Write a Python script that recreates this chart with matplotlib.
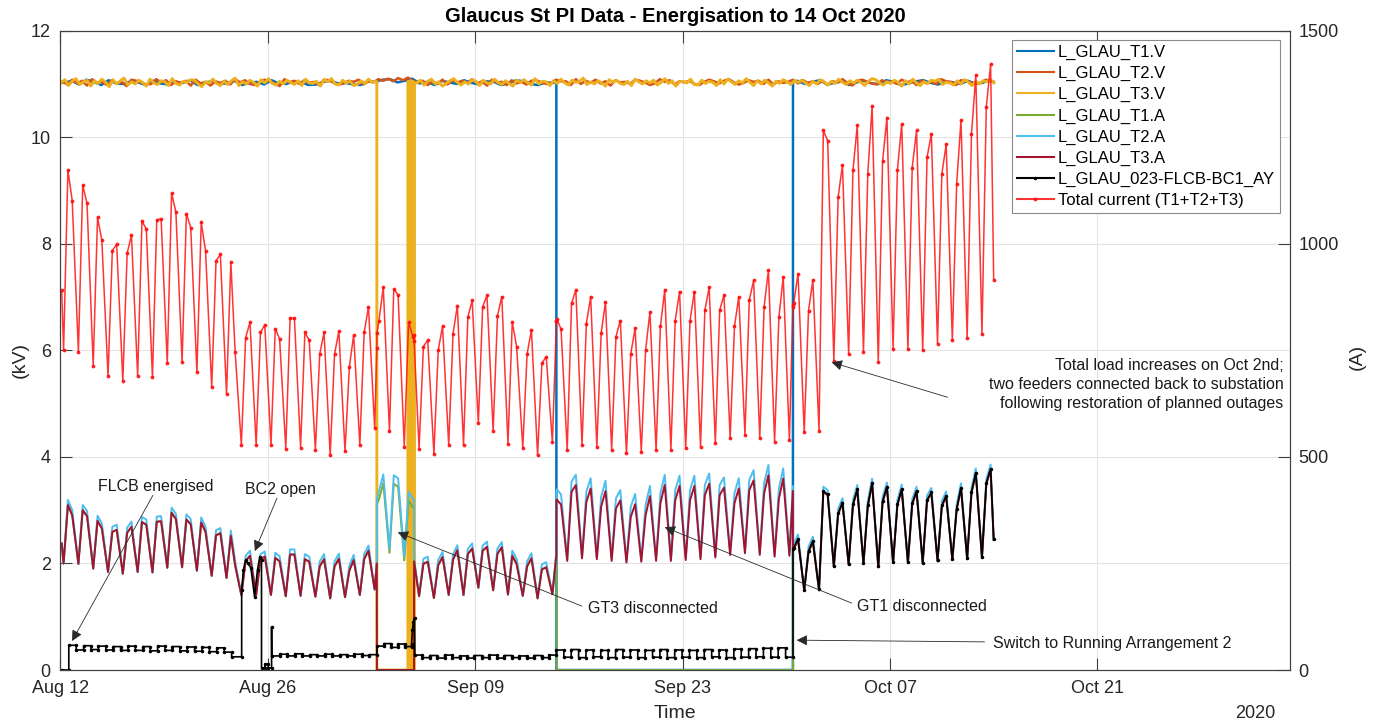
import numpy as np
import matplotlib
matplotlib.use("Agg")
import matplotlib.pyplot as plt
import matplotlib.dates as mdates
from datetime import datetime

plt.rcParams['font.family'] = ['Liberation Sans', 'DejaVu Sans']

# ------------------------------------------------------------------ data
START = datetime(2020, 8, 12)          # day 0 of the record
X_END_DAY = 83                          # axis runs to 3 Nov 2020
tick_days = [0, 14, 28, 42, 56, 70]

# --- voltages (kV), one row per day ---
t1_volt_hours = [6, 18]
t1_volt = [
    [11.02, 11.06], [10.99, 11.08], [11.04, 10.98], [11.07, 11.01], [11.00, 11.05],
    [11.03, 10.98], [11.06, 11.01], [10.99, 11.04], [11.02, 11.07], [10.98, 11.03],
    [11.05, 11.00], [11.01, 11.06], [10.98, 11.02], [11.04, 10.99], [11.07, 11.01],
    [11.00, 11.05], [11.03, 10.98], [10.99, 11.04], [11.06, 11.01], [11.02, 10.99],
    [10.98, 11.05], [11.04, 11.08], [11.09, 11.03], [11.06, 11.10], [11.01, 11.04],
    [10.98, 11.06], [11.03, 11.00], [11.07, 11.02], [10.99, 11.05], [11.04, 10.98],
    [11.01, 11.07], [11.05, 11.00], [10.98, 11.03], [11.02, 0.0], [0.0, 0.0],
    [0.0, 0.0], [0.0, 0.0], [0.0, 0.0], [0.0, 0.0], [0.0, 0.0],
    [0.0, 0.0], [0.0, 0.0], [0.0, 0.0], [0.0, 0.0], [0.0, 0.0],
    [0.0, 0.0], [0.0, 0.0], [0.0, 0.0], [0.0, 0.0], [0.0, 11.06],
    [11.00, 11.04], [11.07, 10.99], [11.02, 11.05], [10.98, 11.03], [11.06, 11.01],
    [11.00, 11.07], [11.04, 10.98], [11.01, 11.05], [11.07, 11.02], [10.99, 11.04],
    [11.03, 11.00], [11.06, 11.01], [11.02, 11.08],
]
t1_volt_ev_days = [0.08, 33.475, 33.48, 49.445, 49.45, 63.0]
t1_volt_ev = [11.03, 11.03, 0.0, 0.0, 11.04, 11.03]

t2_volt_hours = [3, 11, 19]
t2_volt = [
    [11.05, 10.99, 11.08], [11.01, 11.06, 10.97], [11.09, 11.02, 11.04], [10.98, 11.07, 11.01],
    [11.04, 10.96, 11.08], [11.06, 11.03, 10.99], [11.00, 11.09, 11.03], [11.07, 10.98, 11.05],
    [11.02, 11.06, 10.97], [11.08, 11.01, 11.04], [10.97, 11.05, 11.02], [11.06, 10.99, 11.09],
    [11.03, 11.07, 11.00], [10.98, 11.04, 11.08], [11.05, 11.01, 10.96], [11.09, 11.03, 11.06],
    [11.00, 11.07, 11.02], [11.04, 10.98, 11.08], [11.07, 11.02, 10.99], [11.01, 11.06, 11.04],
    [11.08, 10.99, 11.05], [11.03, 11.09, 11.06], [11.10, 11.05, 11.11], [11.07, 11.12, 11.06],
    [11.02, 11.06, 10.98], [11.05, 11.00, 11.08], [10.99, 11.07, 11.03], [11.06, 11.02, 11.09],
    [11.01, 11.05, 10.97], [11.08, 11.03, 11.04], [10.98, 11.07, 11.01], [11.04, 10.99, 11.06],
    [11.07, 11.03, 11.00], [11.02, 11.08, 11.05], [11.05, 10.98, 11.09], [11.00, 11.06, 11.02],
    [11.08, 11.01, 11.05], [10.97, 11.07, 11.03], [11.04, 11.00, 11.08], [11.06, 11.03, 10.98],
    [11.01, 11.09, 11.04], [11.07, 10.99, 11.05], [11.03, 11.06, 11.00], [10.98, 11.04, 11.08],
    [11.05, 11.01, 11.06], [11.09, 11.03, 10.99], [11.02, 11.07, 11.04], [11.06, 11.00, 11.08],
    [10.99, 11.05, 11.02], [11.04, 11.08, 11.01], [11.07, 11.02, 11.05], [11.00, 11.06, 10.98],
    [11.05, 11.03, 11.09], [11.02, 10.97, 11.06], [11.08, 11.04, 11.01], [10.99, 11.07, 11.03],
    [11.05, 11.00, 11.08], [11.03, 11.06, 10.98], [11.07, 11.01, 11.04], [11.00, 11.09, 11.05],
    [11.04, 10.98, 11.07], [11.06, 11.03, 11.00], [11.02, 11.08, 11.05],
]
t2_volt_ev_days = [0.08, 63.0]
t2_volt_ev = [11.03, 11.04]

t3_volt_hours = [1, 7, 13, 19]
t3_volt = [
    [11.02, 11.08, 10.97, 11.05], [11.10, 10.99, 11.04, 11.07], [10.96, 11.06, 11.01, 11.09],
    [11.03, 10.95, 11.08, 11.00], [11.06, 11.11, 10.98, 11.04], [11.00, 11.07, 11.03, 10.96],
    [11.09, 11.02, 10.99, 11.06], [11.04, 10.97, 11.10, 11.01], [10.98, 11.05, 11.03, 11.08],
    [11.07, 11.00, 10.95, 11.04], [11.02, 11.09, 11.01, 10.97], [11.05, 10.99, 11.06, 11.11],
    [10.97, 11.04, 11.00, 11.07], [11.03, 10.96, 11.08, 11.02], [11.10, 11.01, 10.98, 11.05],
    [11.00, 11.07, 11.03, 10.99], [11.06, 10.97, 11.09, 11.02], [11.01, 11.05, 10.96, 11.08],
    [11.04, 11.10, 11.00, 10.98], [11.07, 11.02, 11.05, 10.97], [10.99, 11.06, 11.01, 11.09],
    [11.03, 11.05, 0.0, 0.0], [0.0, 0.0, 0.0, 0.0], [0.0, 0.0, 0.0, 0.0],
    [11.02, 11.07, 10.98, 11.05], [11.09, 11.00, 11.04, 10.96], [11.01, 11.06, 11.10, 11.03],
    [10.98, 11.04, 11.00, 11.08], [11.05, 10.97, 11.07, 11.02], [11.00, 11.09, 11.03, 10.99],
    [11.06, 11.01, 10.96, 11.07], [11.03, 11.08, 11.02, 10.98], [11.10, 11.00, 11.05, 11.04],
    [10.97, 11.06, 11.01, 11.09], [11.02, 10.98, 11.07, 11.03], [11.05, 11.11, 10.99, 11.04],
    [11.00, 11.06, 11.02, 10.96], [11.08, 11.03, 11.07, 11.01], [10.99, 11.05, 10.97, 11.09],
    [11.04, 11.00, 11.06, 11.02], [11.07, 10.98, 11.03, 11.10], [11.01, 11.06, 10.96, 11.04],
    [11.05, 11.02, 11.09, 10.99], [10.98, 11.07, 11.01, 11.05], [11.03, 10.97, 11.08, 11.00],
    [11.09, 11.04, 10.99, 11.06], [11.02, 11.10, 11.03, 10.97], [11.06, 11.00, 11.07, 11.02],
    [10.96, 11.05, 11.01, 11.08], [11.04, 10.99, 11.06, 11.03], [11.07, 11.02, 10.97, 11.05],
    [11.00, 11.08, 11.04, 10.98], [11.05, 11.01, 11.09, 11.03], [10.99, 11.06, 11.02, 11.07],
    [11.03, 10.97, 11.05, 11.10], [11.08, 11.02, 10.98, 11.04], [11.01, 11.07, 11.03, 10.96],
    [11.06, 11.00, 11.09, 11.02], [10.97, 11.04, 11.01, 11.07], [11.05, 11.09, 10.99, 11.03],
    [11.02, 10.98, 11.06, 11.00], [11.08, 11.03, 10.97, 11.05], [11.00, 11.06, 11.04, 11.08],
]
t3_volt_ev_days = [21.355, 21.36, 23.45, 23.451, 23.50, 23.501, 23.55, 23.551, 23.62, 23.621,
                   23.68, 23.681, 23.74, 23.741, 23.80, 23.801, 23.85, 23.851, 23.88, 23.881, 63.0]
t3_volt_ev = [11.04, 0.0, 0.0, 11.05, 11.03, 0.0, 0.0, 11.02, 11.06, 0.0,
              0.0, 11.04, 11.01, 0.0, 0.0, 11.05, 11.03, 0.0, 0.0, 11.02, 11.02]

# --- transformer currents (A), one row per day: early morning, midday, evening ---
amp_hours = [5, 12, 19]
amp_ev_days = [0.08, 21.355, 21.36, 23.865, 23.87, 33.475, 33.48, 49.445, 49.45, 63.0]

t1_amps = [
    [250, 387, 363], [249, 375, 361], [238, 350, 332], [230, 324, 329], [226, 322, 336],
    [230, 347, 341], [229, 348, 349], [240, 369, 354], [241, 353, 342], [233, 346, 324],
    [221, 316, 321], [216, 315, 245], [176, 256, 268], [176, 260, 266], [176, 263, 255],
    [173, 271, 271], [174, 260, 254], [172, 243, 260], [168, 243, 261], [171, 233, 258],
    [176, 260, 280], [189, 400, 439], [275, 437, 430], [257, 398, 381], [173, 249, 254],
    [169, 246, 265], [176, 259, 281], [176, 272, 285], [193, 280, 289], [187, 273, 288],
    [177, 268, 249], [174, 243, 262], [168, 236, 241], [178, 0, 0], [0, 0, 0],
    [0, 0, 0], [0, 0, 0], [0, 0, 0], [0, 0, 0], [0, 0, 0],
    [0, 0, 0], [0, 0, 0], [0, 0, 0], [0, 0, 0], [0, 0, 0],
    [0, 0, 0], [0, 0, 0], [0, 0, 0], [0, 0, 0], [0, 283, 306],
    [186, 277, 301], [187, 418, 410], [242, 366, 391], [247, 387, 422], [249, 384, 437],
    [241, 394, 428], [251, 387, 423], [251, 389, 418], [250, 397, 415], [255, 384, 407],
    [258, 376, 426], [260, 415, 461], [263, 436, 470],
]
t1_amps_ev = [297, 250, 390, 385, 255, 270, 0, 0, 283, 305]

t2_amps = [
    [250, 399, 375], [249, 387, 373], [238, 362, 344], [230, 336, 341], [226, 334, 348],
    [230, 359, 353], [229, 360, 361], [240, 381, 366], [241, 365, 354], [233, 358, 336],
    [221, 328, 333], [216, 327, 255], [176, 268, 280], [176, 272, 278], [176, 275, 267],
    [173, 283, 283], [174, 272, 266], [172, 255, 272], [168, 255, 273], [171, 245, 270],
    [176, 272, 292], [189, 420, 459], [285, 457, 450], [267, 418, 401], [173, 261, 266],
    [169, 258, 277], [176, 271, 293], [176, 284, 297], [193, 292, 301], [187, 285, 300],
    [177, 280, 261], [174, 255, 274], [168, 248, 253], [178, 424, 412], [260, 442, 458],
    [266, 418, 450], [264, 407, 444], [260, 403, 422], [256, 383, 413], [258, 387, 432],
    [260, 415, 458], [260, 422, 456], [262, 422, 456], [264, 434, 461], [268, 434, 452],
    [274, 415, 450], [278, 446, 469], [274, 438, 481], [270, 426, 473], [272, 295, 318],
    [186, 289, 313], [187, 430, 422], [242, 378, 403], [247, 399, 434], [249, 396, 449],
    [241, 406, 440], [251, 399, 435], [251, 401, 430], [250, 409, 427], [255, 396, 419],
    [258, 388, 438], [260, 427, 473], [263, 448, 482],
]
t2_amps_ev = [297, 255, 400, 400, 262, 278, 420, 432, 290, 305]

t3_amps = [
    [250, 387, 363], [249, 375, 361], [238, 350, 332], [230, 324, 329], [226, 322, 336],
    [230, 347, 341], [229, 348, 349], [240, 369, 354], [241, 353, 342], [233, 346, 324],
    [221, 316, 321], [216, 315, 245], [176, 256, 268], [176, 260, 266], [176, 263, 255],
    [173, 271, 271], [174, 260, 254], [172, 243, 260], [168, 243, 261], [171, 233, 258],
    [176, 260, 280], [189, 0, 0], [0, 0, 0], [0, 0, 0], [173, 249, 254],
    [169, 246, 265], [176, 259, 281], [176, 272, 285], [193, 280, 289], [187, 273, 288],
    [177, 268, 249], [174, 243, 262], [168, 236, 241], [178, 400, 388], [256, 418, 434],
    [262, 394, 426], [260, 383, 420], [256, 379, 398], [252, 359, 389], [254, 363, 408],
    [256, 391, 434], [256, 398, 432], [258, 398, 432], [260, 410, 437], [264, 410, 428],
    [270, 391, 426], [274, 422, 445], [270, 414, 457], [266, 402, 449], [268, 283, 306],
    [186, 277, 301], [187, 418, 410], [242, 366, 391], [247, 387, 422], [249, 384, 437],
    [241, 394, 428], [251, 387, 423], [251, 389, 418], [250, 397, 415], [255, 384, 407],
    [258, 376, 426], [260, 415, 461], [263, 436, 470],
]
t3_amps_ev = [297, 250, 0, 0, 255, 270, 398, 420, 283, 305]

# --- FLCB bus-coupler current (A) ---
flcb_pre_span = (0.08, 0.56);   flcb_pre = [0]
flcb_s1_span = (0.56, 11.55)
flcb_s1 = [58, 47, 57, 48, 56, 47, 55, 46, 56, 46, 55, 45, 56, 46, 55, 45, 54, 44, 53, 43, 52, 42]
flcb_s2_span = (11.55, 12.23);  flcb_s2 = [31]
flcb_bc2_days = [12.23, 12.35, 12.5, 12.65, 12.85, 13.1, 13.3, 13.45, 13.57]
flcb_bc2 = [188, 235, 258, 250, 240, 172, 235, 265, 258]
flcb_s3_span = (13.57, 14.25);  flcb_s3 = [5, 14, 5]
flcb_spike_days = [14.25, 14.26];  flcb_spike = [101, 33]
flcb_s4_span = (14.3, 21.36)
flcb_s4 = [33, 37, 33, 38, 33, 36, 33, 37, 33, 36, 33, 37, 34, 36]
flcb_s5_span = (21.36, 23.7);   flcb_s5 = [56, 62, 53, 61, 55]
flcb_ramp_days = [23.7, 23.76, 23.82, 23.9];  flcb_ramp = [60, 95, 112, 122]
flcb_s6_span = (23.92, 33.48)
flcb_s6 = [35, 29, 34, 28, 35, 29, 33, 28, 34, 29, 35, 28, 34, 29, 33, 28, 34, 29, 35]
flcb_s7_span = (33.48, 49.45)
flcb_s7 = [47, 30, 48, 29, 47, 31, 46, 29, 48, 30, 47, 29, 46, 30, 48, 29,
           47, 30, 46, 29, 48, 31, 47, 29, 49, 30, 50, 31, 51, 30, 52, 30]
flcb_head_days = [49.45, 49.5, 49.79];  flcb_head = [285, 287, 308]
flcb_rows_first_day = 50
flcb_rows = [
    [188, 279, 303], [189, 420, 412], [244, 368, 393], [249, 389, 424], [251, 386, 439],
    [243, 396, 430], [253, 389, 425], [253, 391, 420], [252, 399, 417], [257, 386, 409],
    [260, 378, 428], [262, 417, 463], [265, 438, 472],
]
flcb_end_day = 63.0;  flcb_end = 307

labels = ['L_GLAU_T1.V', 'L_GLAU_T2.V', 'L_GLAU_T3.V', 'L_GLAU_T1.A', 'L_GLAU_T2.A',
          'L_GLAU_T3.A', 'L_GLAU_023-FLCB-BC1_AY', 'Total current (T1+T2+T3)']
colors = ['#0072BD', '#D95319', '#EDB120', '#77AC30', '#4DBEEE', '#A2142F', 'k', 'r']


# ------------------------------------------------------------------ helpers
def merge(rows, hours, ev_days=(), ev_vals=(), first_day=0):
    t = [first_day + d + h / 24.0 for d, row in enumerate(rows) for h in hours[:len(row)]]
    v = [x for row in rows for x in row]
    t = np.array(t + list(ev_days), dtype=float)
    v = np.array(v + list(ev_vals), dtype=float)
    o = np.argsort(t, kind='stable')
    return t[o], v[o]


def stairs(span, levels):
    edges = np.linspace(span[0], span[1], len(levels) + 1)
    return np.repeat(edges, 2)[1:-1], np.repeat(np.asarray(levels, float), 2)


T0 = mdates.date2num(START)

v1_t, v1 = merge(t1_volt, t1_volt_hours, t1_volt_ev_days, t1_volt_ev)
v2_t, v2 = merge(t2_volt, t2_volt_hours, t2_volt_ev_days, t2_volt_ev)
v3_t, v3 = merge(t3_volt, t3_volt_hours, t3_volt_ev_days, t3_volt_ev)
a_t, a1 = merge(t1_amps, amp_hours, amp_ev_days, t1_amps_ev)
_, a2 = merge(t2_amps, amp_hours, amp_ev_days, t2_amps_ev)
_, a3 = merge(t3_amps, amp_hours, amp_ev_days, t3_amps_ev)
total = a1 + a2 + a3

pieces = [
    stairs(flcb_pre_span, flcb_pre),
    stairs(flcb_s1_span, flcb_s1),
    stairs(flcb_s2_span, flcb_s2),
    (np.array(flcb_bc2_days), np.array(flcb_bc2, float)),
    stairs(flcb_s3_span, flcb_s3),
    (np.array(flcb_spike_days), np.array(flcb_spike, float)),
    stairs(flcb_s4_span, flcb_s4),
    stairs(flcb_s5_span, flcb_s5),
    (np.array(flcb_ramp_days), np.array(flcb_ramp, float)),
    stairs(flcb_s6_span, flcb_s6),
    stairs(flcb_s7_span, flcb_s7),
    (np.array(flcb_head_days), np.array(flcb_head, float)),
    merge(flcb_rows, amp_hours, first_day=flcb_rows_first_day),
    (np.array([flcb_end_day]), np.array([flcb_end], float)),
]
fl_t = np.concatenate([p[0] for p in pieces])
fl_a = np.concatenate([p[1] for p in pieces])

# ------------------------------------------------------------------ figure
fig = plt.figure(figsize=(13.8, 7.26), dpi=100)
ax = fig.add_axes([0.04384, 0.07713, 0.8909, 0.8806])
ax2 = ax.twinx()

axis_col = '#404040'
handles = []
for (t, v), c, w in zip([(v1_t, v1), (v2_t, v2), (v3_t, v3)], colors[:3], [1.8, 1.8, 2.1]):
    h, = ax.plot(T0 + t, v, color=c, lw=w)
    handles.append(h)
for v, c in zip([a1, a2, a3], colors[3:6]):
    h, = ax2.plot(T0 + a_t, v, color=c, lw=1.4)
    handles.append(h)
h, = ax2.plot(T0 + fl_t, fl_a, color='k', lw=1.2, marker='.', ms=3)
handles.append(h)
h, = ax2.plot(T0 + a_t, total, color='#ff1010', lw=1.1, marker='.', ms=3.5, alpha=0.85)
handles.append(h)

ax.set_xlim(T0, T0 + X_END_DAY)
ax.set_ylim(0, 12)
ax2.set_ylim(0, 1500)
ax.set_yticks(np.arange(0, 13, 2))
ax2.set_yticks([0, 500, 1000, 1500])
ax.set_xticks([T0 + d for d in tick_days])
ax.xaxis.set_major_formatter(mdates.DateFormatter('%b %d'))

ax.grid(True, color='#e4e4e4', lw=0.8)
ax.set_axisbelow(True)
for a in (ax, ax2):
    for s in a.spines.values():
        s.set_color(axis_col)
        s.set_linewidth(0.8)
ax.tick_params(axis='both', direction='in', length=8.5, width=0.8, color=axis_col,
               labelsize=13, labelcolor='#262626')
ax.tick_params(axis='x', top=True, pad=7)
ax.tick_params(axis='y', left=True, right=False, pad=7)
ax2.tick_params(axis='y', direction='in', length=8.5, width=0.8, color=axis_col,
                labelsize=13, labelcolor='#262626', pad=6)

ax.text(0.5, -0.0673, 'Time', transform=ax.transAxes, ha='center', va='center',
        fontsize=14, color='#262626')
ax.text(0.9716, -0.0673, '2020', transform=ax.transAxes, ha='center', va='center',
        fontsize=13, color='#262626')
ax.text(-0.0329, 0.485, '(kV)', transform=ax.transAxes, ha='center', va='center',
        rotation=90, fontsize=14, color='#262626')
ax.text(1.0545, 0.49, '(A)', transform=ax.transAxes, ha='center', va='center',
        rotation=90, fontsize=14, color='#262626')
fig.text(0.4891, 1 - 16 / 726, 'Glaucus St PI Data - Energisation to 14 Oct 2020',
         ha='center', va='center', fontsize=14.5, fontweight='bold')

leg = ax2.legend(handles, labels, loc='upper right', bbox_to_anchor=(0.9918, 0.9855),
                 bbox_transform=ax.transAxes, borderaxespad=0, fontsize=12,
                 fancybox=False, framealpha=1, edgecolor='#8a8a8a', borderpad=0.3,
                 labelspacing=0.36, handlelength=2.2, handletextpad=0.25)
leg.get_frame().set_linewidth(0.8)
for lh in leg.get_lines():
    lh.set_linewidth(1.5)

# annotations: (text, text position (day, A), arrow tail (day, A), arrow tip (day, A), ha)
notes = [
    ('FLCB energised', (6.41, 431), (6.24, 410), (0.78, 68), 'center'),
    ('BC2 open', (14.88, 424), (14.61, 403), (13.12, 279), 'center'),
    ('GT3 disconnected', (39.98, 145), (35.19, 150), (22.77, 323), 'center'),
    ('GT1 disconnected', (58.13, 150), (53.41, 157), (40.79, 335), 'center'),
    ('Switch to Running Arrangement 2', (71.02, 63), (62.38, 66), (49.7, 70), 'center'),
    ('Total load increases on Oct 2nd;\ntwo feeders connected back to substation\n'
     'following restoration of planned outages', (82.56, 670), (59.88, 640), (52.06, 722), 'right'),
]
for txt, tp, tail, tip, ha in notes:
    ax2.text(T0 + tp[0], tp[1], txt, ha=ha, va='center', fontsize=11.5, color='#1a1a1a',
             multialignment=ha, linespacing=1.3)
    ax2.annotate('', xy=(T0 + tip[0], tip[1]), xytext=(T0 + tail[0], tail[1]),
                 arrowprops=dict(arrowstyle='-|>', color='#2a2a2a', lw=0.6,
                                 shrinkA=0, shrinkB=0, mutation_scale=16))

fig.savefig('out.png', dpi=100)
